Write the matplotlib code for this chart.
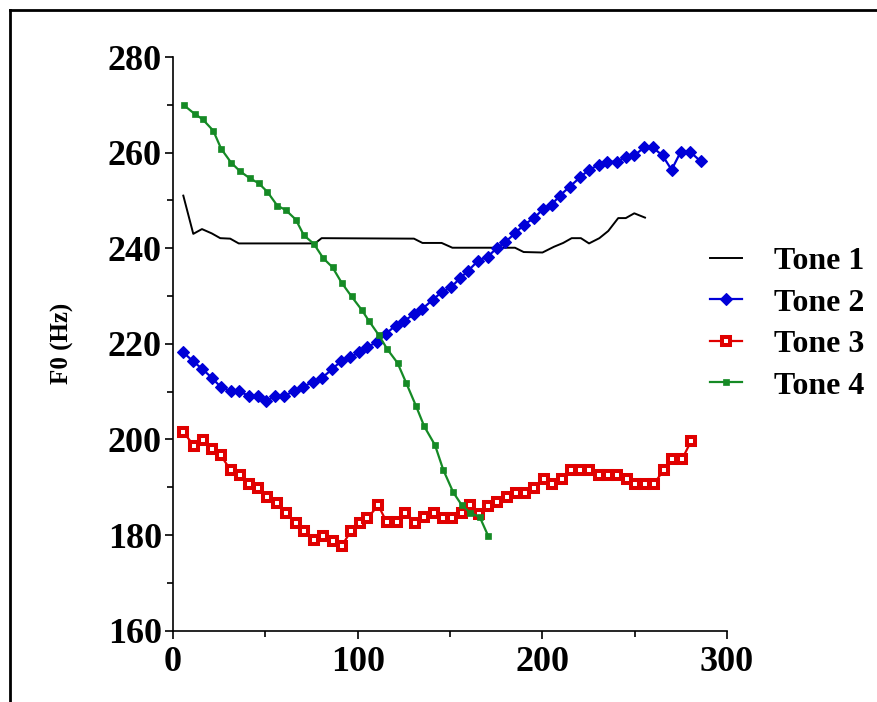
import matplotlib
matplotlib.use("Agg")
import matplotlib.pyplot as plt
from matplotlib.lines import Line2D
from matplotlib.ticker import MultipleLocator

# ---------------- data ----------------
tone1_x = [5.6, 11.0, 15.7, 21.0, 25.6, 31.0, 35.6, 76.9, 80.5, 130.5, 135.1, 145.5,
           151.3, 185.2, 189.9, 200.1, 206.3, 211.3, 215.9, 220.9, 225.3, 230.9,
           235.7, 241.1, 245.2, 249.8, 255.6]
tone1_y = [251.0, 243.0, 244.0, 243.1, 242.1, 242.0, 241.0, 241.0, 242.1, 242.0, 241.1, 241.1,
           240.1, 240.1, 239.2, 239.1, 240.3, 241.1, 242.1, 242.1, 241.0, 242.1,
           243.6, 246.3, 246.3, 247.3, 246.4]

tone2_x = [5.6, 11.0, 15.7, 21.0, 25.8, 31.2, 35.7, 41.1, 45.9, 50.4, 55.4, 60.3, 65.5,
           70.5, 76.0, 80.8, 86.2, 90.8, 96.0, 100.7, 104.9, 110.3, 115.2, 120.6, 125.2,
           130.6, 135.0, 140.6, 145.5, 150.5, 155.4, 159.9, 165.3, 170.4, 175.3, 179.7,
           185.2, 190.0, 195.5, 200.2, 205.0, 209.5, 214.9, 220.4, 225.2, 230.6, 235.1,
           240.6, 245.1, 249.8, 255.2, 259.7, 265.1, 270.0, 275.0, 279.9, 285.7]
tone2_y = [218.2, 216.3, 214.8, 212.9, 211.0, 210.1, 210.1, 209.1, 209.1, 208.0, 209.1, 209.1, 210.1,
           211.0, 212.1, 212.9, 214.7, 216.3, 217.2, 218.2, 219.3, 220.3, 222.1, 223.8, 224.8,
           226.2, 227.3, 229.2, 230.8, 231.8, 233.7, 235.3, 237.4, 238.2, 240.0, 241.2,
           243.1, 244.9, 246.3, 248.1, 249.1, 251.0, 252.9, 254.8, 256.4, 257.4, 258.1,
           258.1, 259.1, 259.4, 261.1, 261.1, 259.4, 256.4, 260.2, 260.2, 258.2]

tone3_x = [5.6, 11.4, 16.1, 21.3, 25.8, 31.2, 36.3, 41.3, 46.2, 51.1, 56.1, 61.2, 66.4,
           71.1, 76.3, 81.4, 86.5, 91.3, 96.4, 101.2, 105.2, 111.2, 115.7, 121.1, 125.8,
           131.2, 135.9, 141.3, 146.0, 151.3, 156.5, 160.6, 165.7, 170.5, 175.6, 180.7,
           185.7, 190.6, 195.7, 200.7, 205.5, 210.8, 215.4, 220.4, 225.3, 230.5, 235.4,
           240.6, 245.6, 250.1, 255.5, 260.5, 265.7, 270.4, 275.9, 280.6]
tone3_y = [201.6, 198.6, 199.9, 197.9, 196.7, 193.6, 192.6, 190.7, 189.8, 187.9, 186.8, 184.5, 182.6,
           180.8, 178.9, 179.8, 178.8, 177.7, 180.8, 182.6, 183.5, 186.2, 182.7, 182.7, 184.7,
           182.6, 183.7, 184.7, 183.6, 183.6, 184.7, 186.2, 184.4, 186.1, 187.0, 188.0,
           188.7, 188.7, 189.9, 191.8, 190.7, 191.7, 193.6, 193.6, 193.6, 192.6, 192.6,
           192.6, 191.7, 190.7, 190.7, 190.7, 193.6, 196.0, 196.0, 199.7]

tone4_x = [6.0, 11.7, 16.0, 21.8, 26.1, 31.5, 36.3, 41.7, 46.4, 51.1, 56.5, 61.0, 66.5,
           70.9, 76.3, 81.4, 86.4, 91.3, 96.7, 102.2, 106.1, 111.5, 116.0, 121.6, 126.2,
           131.6, 136.1, 141.9, 146.4, 151.8, 156.3, 160.8, 166.2, 170.7]
tone4_y = [269.9, 268.1, 267.0, 264.6, 260.8, 257.9, 256.1, 254.6, 253.6, 251.8, 248.9, 248.0, 246.0,
           242.7, 240.9, 237.9, 236.0, 232.8, 229.9, 227.1, 224.8, 221.8, 218.9, 216.0, 211.9,
           207.0, 202.7, 198.8, 193.6, 188.9, 186.3, 184.7, 183.7, 179.8]

labels = ["Tone 1", "Tone 2", "Tone 3", "Tone 4"]
x_ticks = [0, 100, 200, 300]
y_ticks = [160, 180, 200, 220, 240, 260, 280]

# ---------------- figure ----------------
plt.rcParams['font.family'] = ['Liberation Serif', 'DejaVu Serif']
plt.rcParams['font.weight'] = 'bold'

fig = plt.figure(figsize=(8.78, 7.02), dpi=100)
ax = fig.add_axes([0.197, 0.1017, 0.631, 0.8171])

ax.plot(tone1_x, tone1_y, color='black', lw=1.4, label=labels[0])
ax.plot(tone2_x, tone2_y, color='#0000d8', lw=1.6, marker='D', markersize=6.3,
        markeredgewidth=0.8, label=labels[1])
ax.plot(tone3_x, tone3_y, color='#e00000', lw=1.6, marker='s', markersize=5.3,
        markerfacecolor='white', markeredgecolor='#e00000', markeredgewidth=2.9,
        label=labels[2])
ax.plot(tone4_x, tone4_y, color='#158a25', lw=1.6, marker='s', markersize=4.6,
        markeredgewidth=0.5, label=labels[3])

ax.set_xlim(0, 300)
ax.set_ylim(160, 280)
ax.set_xticks(x_ticks)
ax.set_yticks(y_ticks)
ax.xaxis.set_minor_locator(MultipleLocator(50))
ax.yaxis.set_minor_locator(MultipleLocator(10))

for s in ['top', 'right']:
    ax.spines[s].set_visible(False)
for s in ['left', 'bottom']:
    ax.spines[s].set_linewidth(1.2)

ax.tick_params(which='major', direction='out', length=6, width=1.2, labelsize=26, pad=2)
ax.tick_params(which='minor', direction='out', length=4, width=1.2)
ax.tick_params(axis='x', which='major', pad=5)
for lab in ax.get_xticklabels() + ax.get_yticklabels():
    lab.set_fontweight('bold')

ax.set_ylabel("F0 (Hz)", fontsize=18, fontweight='bold', labelpad=24)

leg = ax.legend(loc='center left', bbox_to_anchor=(0.809, 0.539),
                bbox_transform=fig.transFigure, frameon=False, fontsize=23,
                handlelength=1.0, handletextpad=1.0, labelspacing=0.38,
                borderpad=0, borderaxespad=0)
for t in leg.get_texts():
    t.set_fontweight('bold')

# outer frame lines (left and top)
fig.add_artist(Line2D([10 / 878, 10 / 878], [0, 1 - 10 / 702], transform=fig.transFigure,
                      color='black', lw=2.0))
fig.add_artist(Line2D([10 / 878, 1], [1 - 10 / 702, 1 - 10 / 702], transform=fig.transFigure,
                      color='black', lw=2.0))

fig.savefig("out.png", dpi=100)
